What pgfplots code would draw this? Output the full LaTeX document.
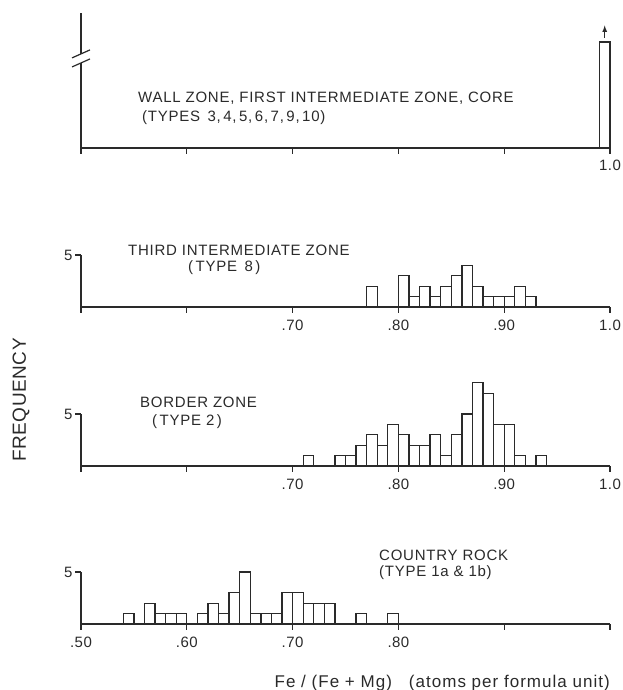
\documentclass[border=0pt]{standalone}
\usepackage{fontspec}
\setmainfont{Liberation Sans}
\usepackage{pgfplots}
\pgfplotsset{compat=1.18}
\definecolor{ink}{HTML}{2A2A2A}
\newcommand{\lbl}{\fontsize{15}{17}\selectfont\addfontfeature{LetterSpace=5}}
\pgfplotsset{
  panel/.style={
    scale only axis, width=529pt, height=52pt,
    xmin=0.5, xmax=1.0, ymin=0, ymax=5,
    axis x line=bottom, axis y line=left,
    axis line style={line width=1.6pt, ink, -},
    xtick={0.5,0.6,0.7,0.8,0.9,1.0},
    ytick={5}, yticklabels={5},
    tick style={line width=1.2pt, ink},
    major tick length=6pt,
    tick align=outside,
    clip=false,
    x tick label style={font=\fontsize{15}{17}\selectfont\addfontfeature{LetterSpace=3}, text=ink, yshift=-3pt},
    y tick label style={font=\fontsize{15}{17}\selectfont, text=ink, xshift=1pt},
    /pgf/number format/assume math mode=true,
    anchor=south west,
  },
  bars/.style={ybar interval, fill=white, draw=ink, line width=1.3pt},
}
\begin{document}
\begin{tikzpicture}
\path[use as bounding box] (0,0) rectangle (622pt,690pt);

% Panel 1
\begin{axis}[panel, at={(81pt,542pt)}, height=135pt, ymax=13,
  axis y line=none, ytick=\empty,
  xticklabels={,,,,,1.0}]
\addplot[bars] coordinates {(0.99,10.2) (1.00,10.2)};
\draw[line width=1.6pt, ink] (axis cs:0.5,0) -- (axis cs:0.5,8.19);
\draw[line width=1.6pt, ink] (axis cs:0.5,9.06) -- (axis cs:0.5,13);
\draw[line width=1.2pt, ink] ([xshift=-9pt,yshift=-4pt]axis cs:0.5,8.19) -- ([xshift=9pt,yshift=4pt]axis cs:0.5,8.19);
\draw[line width=1.2pt, ink] ([xshift=-9pt,yshift=-4pt]axis cs:0.5,9.06) -- ([xshift=9pt,yshift=4pt]axis cs:0.5,9.06);
\draw[line width=1.2pt, ink, -latex] (axis cs:0.995,10.6) -- (axis cs:0.995,11.8);
\end{axis}

% Panel 2
\begin{axis}[panel, at={(81pt,383pt)},
  xticklabels={,,.70,.80,.90,1.0}]
\addplot[bars] coordinates {
(0.77,2) (0.78,0) (0.79,0) (0.80,3) (0.81,1) (0.82,2) (0.83,1) (0.84,2)
(0.85,3) (0.86,4) (0.87,2) (0.88,1) (0.89,1) (0.90,1) (0.91,2) (0.92,1) (0.93,1)};
\end{axis}

% Panel 3
\begin{axis}[panel, at={(81pt,224pt)},
  xticklabels={,,.70,.80,.90,1.0}]
\addplot[bars] coordinates {
(0.71,1) (0.72,0) (0.73,0) (0.74,1) (0.75,1) (0.76,2) (0.77,3) (0.78,2)
(0.79,4) (0.80,3) (0.81,2) (0.82,2) (0.83,3) (0.84,1) (0.85,3) (0.86,5)
(0.87,8) (0.88,7) (0.89,4) (0.90,4) (0.91,1) (0.92,0) (0.93,1) (0.94,1)};
\end{axis}

% Panel 4
\begin{axis}[panel, at={(81pt,66pt)},
  xticklabels={.50,.60,.70,.80,,}]
\addplot[bars] coordinates {
(0.54,1) (0.55,0) (0.56,2) (0.57,1) (0.58,1) (0.59,1) (0.60,0) (0.61,1)
(0.62,2) (0.63,1) (0.64,3) (0.65,5) (0.66,1) (0.67,1) (0.68,1) (0.69,3)
(0.70,3) (0.71,2) (0.72,2) (0.73,2) (0.74,0) (0.75,0) (0.76,1) (0.77,0)
(0.78,0) (0.79,1) (0.80,1)};
\end{axis}

% Labels
\begin{scope}[every node/.style={text=ink, inner sep=0pt}]
\node[anchor=west] at (138pt,592pt) {\lbl WALL ZONE, FIRST INTERMEDIATE ZONE, CORE};
\node[anchor=west] at (142pt,572pt) {\lbl (TYPES\enspace 3,\,4,\,5,\,6,\,7,\,9,\,10)};
\node[anchor=west] at (128pt,440pt) {\lbl THIRD INTERMEDIATE ZONE};
\node[anchor=west] at (188pt,422pt) {\lbl (\,TYPE\enspace 8\,)};
\node[anchor=west] at (140pt,288pt) {\lbl BORDER ZONE};
\node[anchor=west] at (152pt,268pt) {\lbl (\,TYPE 2\,)};
\node[anchor=west] at (379pt,135pt) {\lbl COUNTRY ROCK};
\node[anchor=west] at (379pt,117pt) {\lbl (TYPE 1a \& 1b)};
\node[rotate=90] at (21pt,290pt) {\fontsize{19}{21}\selectfont\addfontfeature{LetterSpace=3}FREQUENCY};
\node[anchor=east] at (610pt,7pt) {\fontsize{17}{19}\selectfont\addfontfeature{LetterSpace=6}Fe / (Fe + Mg)\quad (atoms per formula unit)};
\end{scope}
\end{tikzpicture}
\end{document}
